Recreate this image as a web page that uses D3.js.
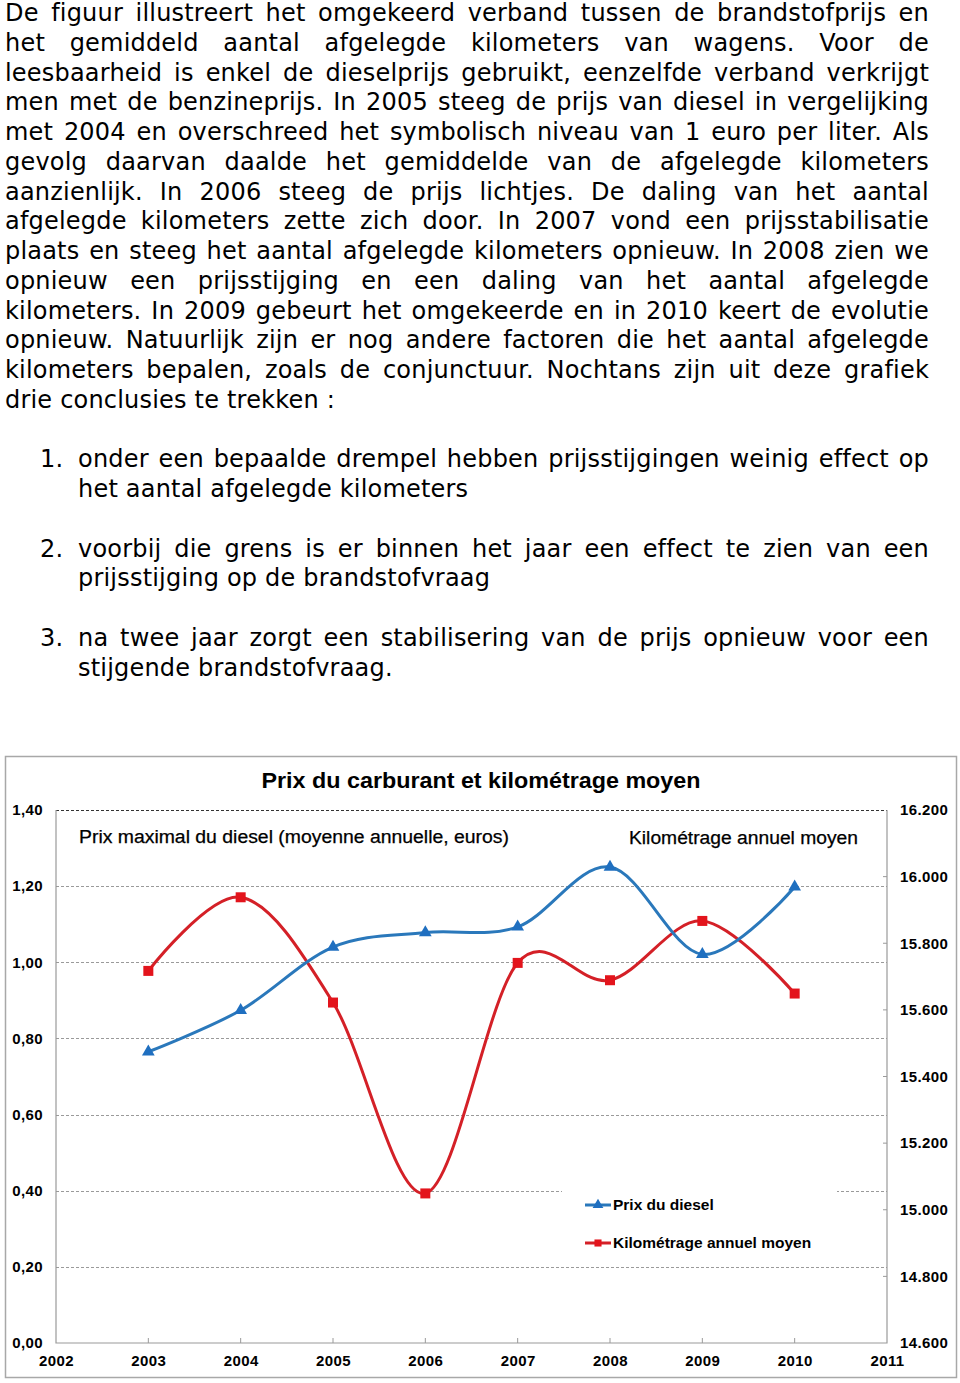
<!DOCTYPE html>
<html>
<head>
<meta charset="utf-8">
<script src="https://cdn.jsdelivr.net/npm/d3@7"></script>
<style>
  body { margin: 0; background: #fff; }
  #page { position: relative; width: 960px; height: 1383px; overflow: hidden; }
  .line { position: absolute; white-space: nowrap; font-family: "DejaVu Sans", Verdana, sans-serif;
          font-size: 24px; line-height: 26px; letter-spacing: 0.2px; color: #000; }
  .just { text-align: justify; text-align-last: justify; }
  svg { position: absolute; left: 0; top: 0; }
  .tick text { font-family: "Liberation Sans", Arial, sans-serif; font-weight: bold; font-size: 15px;
               letter-spacing: 0.4px; fill: #000; }
</style>
</head>
<body>
<div id="page"></div>
<script>
// paragraph text, one entry per printed line: [row, text, justified]
var introLines = [
  [0, "De figuur illustreert het omgekeerd verband tussen de brandstofprijs en", true],
  [1, "het gemiddeld aantal afgelegde kilometers van wagens. Voor de", true],
  [2, "leesbaarheid is enkel de dieselprijs gebruikt, eenzelfde verband verkrijgt", true],
  [3, "men met de benzineprijs. In 2005 steeg de prijs van diesel in vergelijking", true],
  [4, "met 2004 en overschreed het symbolisch niveau van 1 euro per liter. Als", true],
  [5, "gevolg daarvan daalde het gemiddelde van de afgelegde kilometers", true],
  [6, "aanzienlijk. In 2006 steeg de prijs lichtjes. De daling van het aantal", true],
  [7, "afgelegde kilometers zette zich door. In 2007 vond een prijsstabilisatie", true],
  [8, "plaats en steeg het aantal afgelegde kilometers opnieuw. In 2008 zien we", true],
  [9, "opnieuw een prijsstijging en een daling van het aantal afgelegde", true],
  [10, "kilometers. In 2009 gebeurt het omgekeerde en in 2010 keert de evolutie", true],
  [11, "opnieuw. Natuurlijk zijn er nog andere factoren die het aantal afgelegde", true],
  [12, "kilometers bepalen, zoals de conjunctuur. Nochtans zijn uit deze grafiek", true],
  [13, "drie conclusies te trekken :", false]
];
var listItems = [
  { row: 15, num: "1.", lines: ["onder een bepaalde drempel hebben prijsstijgingen weinig effect op", "het aantal afgelegde kilometers"] },
  { row: 18, num: "2.", lines: ["voorbij die grens is er binnen het jaar een effect te zien van een", "prijsstijging op de brandstofvraag"] },
  { row: 21, num: "3.", lines: ["na twee jaar zorgt een stabilisering van de prijs opnieuw voor een", "stijgende brandstofvraag."] }
];

// chart data
var years = [2003, 2004, 2005, 2006, 2007, 2008, 2009, 2010];
var dieselPrice = [0.765, 0.874, 1.04, 1.078, 1.093, 1.25, 1.021, 1.198];
var kmPerYear = [15717, 15938, 15622, 15049, 15741, 15689, 15867, 15649];
var leftTicks = [0, 0.2, 0.4, 0.6, 0.8, 1.0, 1.2, 1.4];
var rightTicks = [14600, 14800, 15000, 15200, 15400, 15600, 15800, 16000, 16200];
var yearTicks = [2002, 2003, 2004, 2005, 2006, 2007, 2008, 2009, 2010, 2011];

var page = d3.select("#page");
var rowH = 29.75, textTop = 0;

function addLine(row, left, width, txt, justified){
  var div = page.append("div")
    .attr("class", "line" + (justified ? " just" : ""))
    .style("left", left + "px")
    .style("top", (textTop + row * rowH) + "px")
    .style("width", width + "px");
  var span = div.append("span").text(txt);
  //squeeze lines that are wider than the column
  var w = span.node().getBoundingClientRect().width;
  if (justified && w > width) {
    span.style("letter-spacing", (0.2 + (width - w) / txt.length) + "px");
  }
}

introLines.forEach(function(d){ addLine(d[0], 5, 924, d[1], d[2]); });
listItems.forEach(function(item){
  addLine(item.row, 40, 40, item.num, false);
  item.lines.forEach(function(t, i){
    addLine(item.row + i, 78, 851, t, i < item.lines.length - 1);
  });
});

//chart
var svg = page.append("svg").attr("width", 960).attr("height", 1383);

var blue = "#2a78bb", red = "#d42027";

svg.append("rect")
  .attr("x", 5.5).attr("y", 756.5)
  .attr("width", 951).attr("height", 621)
  .style("fill", "#fff").style("stroke", "#a8a8a8").style("stroke-width", 1.5);

var x = d3.scaleLinear().domain([2002, 2011]).range([56, 887]);
var yL = d3.scaleLinear().domain([0, 1.4]).range([1343, 810]);
var yR = d3.scaleLinear().domain([14600, 16200]).range([1343, 810]);

//gridlines
svg.append("g").selectAll("line")
  .data(leftTicks.slice(1))
  .enter().append("line")
  .attr("x1", x(2002)).attr("x2", x(2011))
  .attr("y1", function(d){ return Math.round(yL(d)) + 0.5; })
  .attr("y2", function(d){ return Math.round(yL(d)) + 0.5; })
  .style("stroke", function(d){ return d === 1.4 ? "#333" : "#9a9a9a"; })
  .style("stroke-dasharray", "3,2");

//plot frame (left, bottom, right)
svg.append("path")
  .attr("d", "M" + x(2002) + "," + yL(1.4) + "V" + yL(0) + "H" + x(2011) + "V" + yL(1.4))
  .style("fill", "none").style("stroke", "#9a9a9a").style("stroke-width", 1.2);

//x axis
var xAxis = d3.axisBottom(x).tickValues(yearTicks).tickFormat(d3.format("d")).tickSize(0).tickPadding(12);
var gx = svg.append("g").attr("transform", "translate(0," + yL(0) + ")").call(xAxis);
gx.select(".domain").remove();
svg.append("g").selectAll("line")
  .data(yearTicks.slice(1, -1))
  .enter().append("line")
  .attr("x1", function(d){ return x(d); }).attr("x2", function(d){ return x(d); })
  .attr("y1", yL(0)).attr("y2", yL(0) - 5)
  .style("stroke", "#9a9a9a");

//left axis
var yAxisL = d3.axisLeft(yL).tickValues(leftTicks)
  .tickFormat(function(d){ return d3.format(".2f")(d).replace(".", ","); })
  .tickSize(0).tickPadding(13);
var gl = svg.append("g").attr("transform", "translate(" + x(2002) + ",0)").call(yAxisL);
gl.select(".domain").remove();

//right axis
var yAxisR = d3.axisRight(yR).tickValues(rightTicks)
  .tickFormat(function(d){ return d3.format(",")(d).replace(",", "."); })
  .tickSize(0).tickPadding(13);
var gr = svg.append("g").attr("transform", "translate(" + x(2011) + ",0)").call(yAxisR);
gr.select(".domain").remove();
svg.append("g").selectAll("line")
  .data(rightTicks.slice(1, -1))
  .enter().append("line")
  .attr("x1", x(2011) - 4).attr("x2", x(2011))
  .attr("y1", function(d){ return yR(d); }).attr("y2", function(d){ return yR(d); })
  .style("stroke", "#9a9a9a");

//titles
svg.append("text")
  .attr("x", 481).attr("y", 788)
  .attr("text-anchor", "middle")
  .attr("textLength", 439).attr("lengthAdjust", "spacingAndGlyphs")
  .style("font-family", "Liberation Sans, Arial, sans-serif")
  .style("font-weight", "bold").style("font-size", "22px")
  .text("Prix du carburant et kilométrage moyen");
svg.append("text")
  .attr("x", 79).attr("y", 843)
  .attr("textLength", 430).attr("lengthAdjust", "spacingAndGlyphs")
  .style("font-family", "Liberation Sans, Arial, sans-serif").style("font-size", "18px")
  .style("stroke", "#000").style("stroke-width", 0.25)
  .text("Prix maximal du diesel (moyenne annuelle, euros)");
svg.append("text")
  .attr("x", 858).attr("y", 844)
  .attr("text-anchor", "end")
  .attr("textLength", 229).attr("lengthAdjust", "spacingAndGlyphs")
  .style("font-family", "Liberation Sans, Arial, sans-serif").style("font-size", "18px")
  .style("stroke", "#000").style("stroke-width", 0.25)
  .text("Kilométrage annuel moyen");

//series
var curve = d3.curveCardinal.tension(0);
var lineL = d3.line()
  .x(function(d, i){ return x(years[i]); })
  .y(function(d){ return yL(d); })
  .curve(curve);
var lineR = d3.line()
  .x(function(d, i){ return x(years[i]); })
  .y(function(d){ return yR(d); })
  .curve(curve);

svg.append("path").datum(kmPerYear).attr("d", lineR)
  .style("fill", "none").style("stroke", red).style("stroke-width", 3);
svg.append("path").datum(dieselPrice).attr("d", lineL)
  .style("fill", "none").style("stroke", blue).style("stroke-width", 3);

var tri = d3.symbol().type(d3.symbolTriangle).size(70);
var sq = d3.symbol().type(d3.symbolSquare).size(100);

svg.append("g").selectAll("path")
  .data(kmPerYear).enter().append("path")
  .attr("d", sq)
  .attr("transform", function(d, i){ return "translate(" + x(years[i]) + "," + yR(d) + ")"; })
  .style("fill", "#e3141c");
svg.append("g").selectAll("path")
  .data(dieselPrice).enter().append("path")
  .attr("d", tri)
  .attr("transform", function(d, i){ return "translate(" + x(years[i]) + "," + yL(d) + ")"; })
  .style("fill", "#1f6fc0");

//legend
var legend = svg.append("g");
legend.append("rect")
  .attr("x", 562).attr("y", 1184).attr("width", 275).attr("height", 78)
  .style("fill", "#fff");
var legendItems = [
  { label: "Prix du diesel", color: blue, mark: tri, fill: "#1f6fc0", y: 1205 },
  { label: "Kilométrage annuel moyen", color: red, mark: sq, fill: "#e3141c", y: 1243 }
];
var li = legend.selectAll(".li").data(legendItems).enter().append("g").attr("class", "li");
li.append("line")
  .attr("x1", 585).attr("x2", 611)
  .attr("y1", function(d){ return d.y; }).attr("y2", function(d){ return d.y; })
  .style("stroke", function(d){ return d.color; }).style("stroke-width", 3);
li.append("path")
  .attr("d", function(d){ return d.mark.size(50)(); })
  .attr("transform", function(d){ return "translate(598," + d.y + ")"; })
  .style("fill", function(d){ return d.fill; });
li.append("text")
  .attr("x", 613).attr("y", function(d){ return d.y + 5; })
  .style("font-family", "Liberation Sans, Arial, sans-serif")
  .style("font-weight", "bold").style("font-size", "15.5px")
  .text(function(d){ return d.label; });
</script>
</body>
</html>
